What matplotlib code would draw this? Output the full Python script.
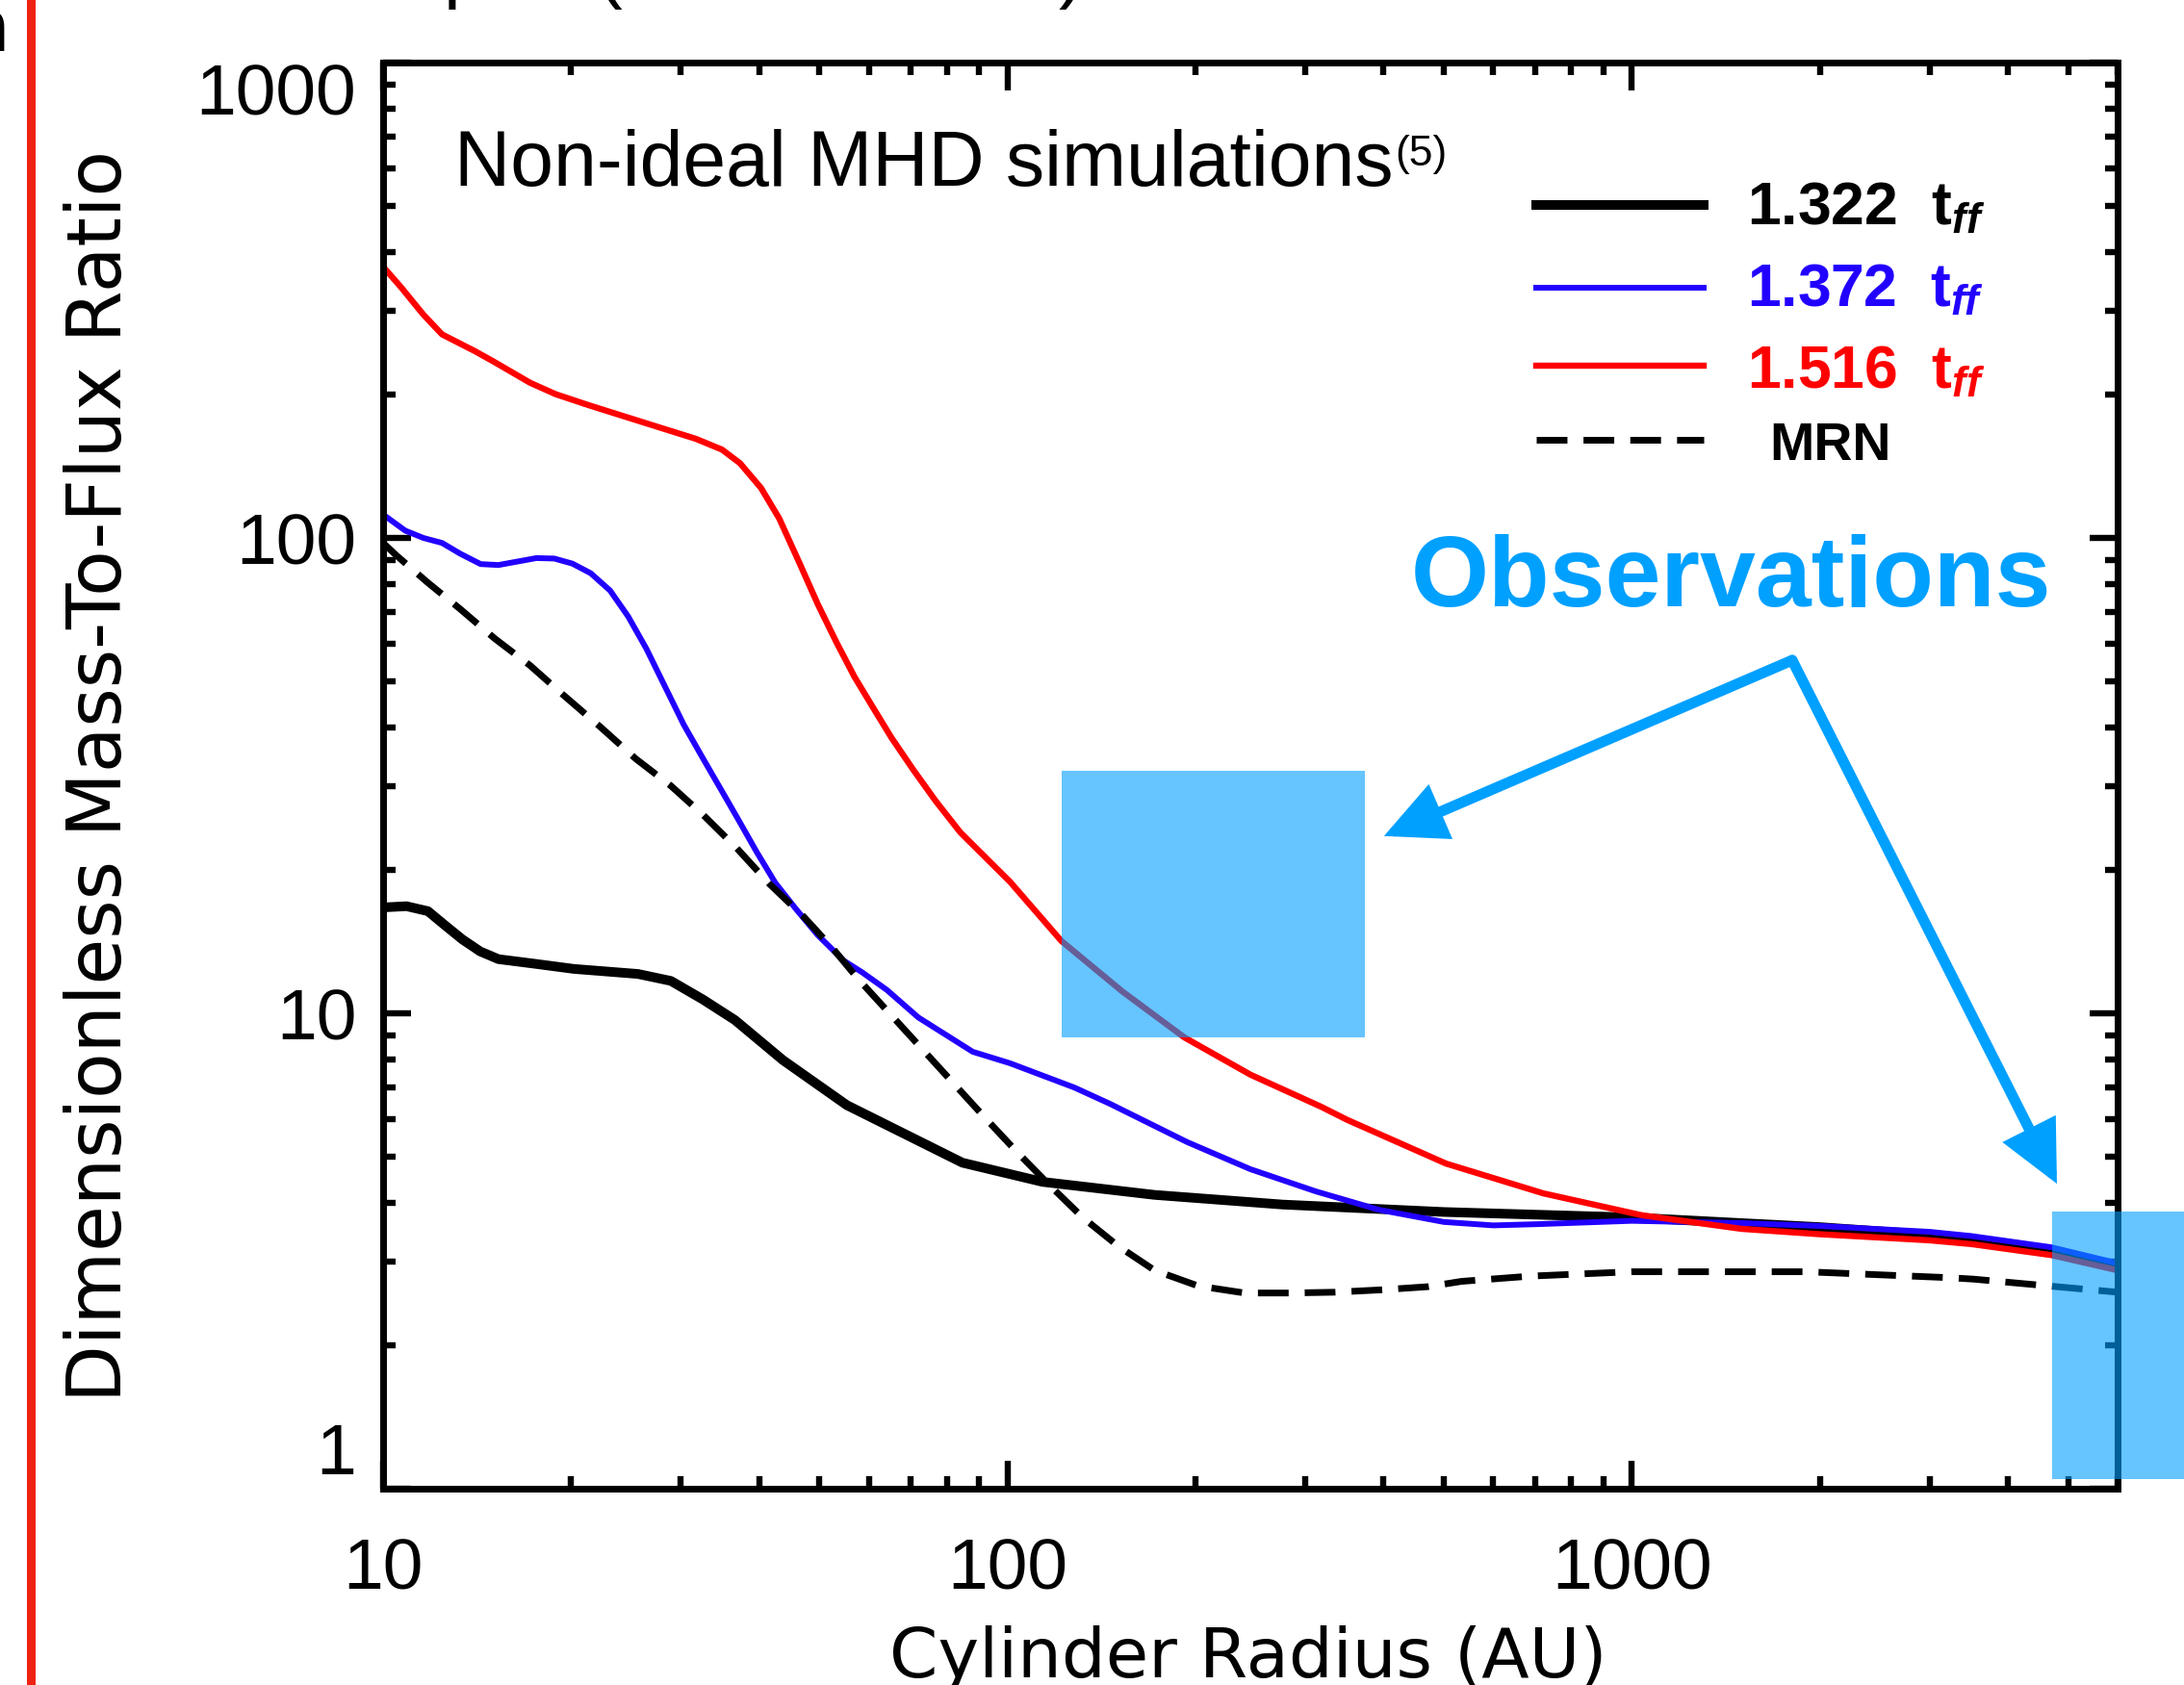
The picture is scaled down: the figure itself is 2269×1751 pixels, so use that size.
import matplotlib
matplotlib.use("Agg")
import matplotlib.pyplot as plt
from matplotlib.lines import Line2D
from matplotlib.patches import Rectangle
from matplotlib.ticker import FixedLocator, NullFormatter

plt.rcParams["font.family"] = ["DejaVu Sans"]
plt.rcParams["mathtext.fontset"] = "custom"
plt.rcParams["mathtext.it"] = "Liberation Sans:italic:bold"
plt.rcParams["mathtext.rm"] = "Liberation Sans:bold"

## DATA ##
# --------------------------------------------------------------------------- #
# 1.322 t_ff
r_1322 = [10, 10.9, 11.8, 12.5, 13.4, 14.3, 15.3, 17.6, 20.2, 25.6, 28.9, 32.5,
          36.6, 43.7, 55.3, 84.7, 113.8, 172, 276, 500, 1000, 2000, 3000, 3500,
          4700, 6000]
mu_1322 = [16.7, 16.8, 16.4, 15.4, 14.3, 13.5, 13.0, 12.7, 12.4, 12.1, 11.7, 10.7,
           9.68, 7.97, 6.41, 4.85, 4.42, 4.15, 3.96, 3.82, 3.72, 3.55, 3.42, 3.33,
           3.16, 2.93]

# 1.372 t_ff
r_1372 = [10, 10.85, 11.6, 12.43, 13.3, 14.33, 15.3, 17.6, 18.8, 20.1, 21.5, 23.1,
          24.7, 26.4, 28.3, 30.3, 32.4, 34.7, 37.1, 39.7, 42.5, 45.8, 49.7, 54.7,
          58.5, 64.1, 72, 88, 101, 128, 146, 194, 245, 312, 394, 500, 600, 700,
          1000, 1500, 2000, 3000, 3500, 4700, 6000]
mu_1372 = [112, 103.6, 100, 97.6, 92.6, 88.1, 87.7, 90.7, 90.5, 88.3, 84.3, 77.5,
           68.3, 58.5, 48.6, 40.5, 34.7, 29.7, 25.5, 21.8, 18.8, 16.6, 14.6, 12.9,
           12.2, 11.2, 9.8, 8.3, 7.85, 6.98, 6.45, 5.36, 4.70, 4.22, 3.86, 3.64,
           3.58, 3.6, 3.66, 3.62, 3.57, 3.47, 3.40, 3.22, 2.98]

# 1.516 t_ff
r_1516 = [10, 10.7, 11.6, 12.43, 14.04, 15.03, 17.2, 18.9, 21.4, 25.9, 31.7, 34.9,
          37.3, 40.3, 43.1, 46.4, 49.7, 53.2, 56.9, 60.9, 65.2, 70.7, 76.7, 84.1,
          101, 122, 153, 192, 245, 318, 350, 504, 722, 1038, 1500, 2000, 3000,
          3500, 4700, 6000]
mu_1516 = [372, 336, 295, 268, 247, 235, 212, 200.6, 190, 175.6, 161.6, 153.4,
           143.6, 127.4, 109.9, 88.8, 72.5, 60.4, 51.0, 44.0, 38.0, 32.5, 28.0, 24.0,
           18.9, 14.2, 11.1, 8.9, 7.43, 6.36, 5.97, 4.83, 4.18, 3.76, 3.52, 3.43,
           3.33, 3.27, 3.10, 2.88]

# MRN
r_mrn = [10, 10.49, 11.77, 13.3, 15.1, 17.2, 19.45, 22.3, 25.4, 28.9, 32.6, 36.8,
         41.6, 47.1, 52.5, 57.7, 92.6, 104, 116.8, 132, 150.4, 172, 202, 240, 283,
         334, 397, 471, 534, 688, 1000, 1900, 3200, 3522, 6000]
mu_mrn = [97.6, 92.0, 80.7, 70.8, 61.4, 53.9, 46.7, 40.0, 34.3, 30.1, 26.1, 22.3,
          18.7, 16.0, 13.7, 11.8, 5.98, 5.08, 4.35, 3.72, 3.24, 2.88, 2.67, 2.58,
          2.58, 2.59, 2.62, 2.66, 2.73, 2.8, 2.86, 2.86, 2.78, 2.76, 2.59]

series_labels = ["1.322", "1.372", "1.516"]

# observation boxes: (r_min, r_max), (mu_min, mu_max)
obs_r = [(122, 374), (4710, 8000)]
obs_mu = [(8.9, 32.4), (1.05, 3.83)]

# arrow anchors (data units)
arrow_start = (1807, 55.3)
arrow_ends = [(401, 23.6), (4797, 4.38)]

x_ticks = [10, 100, 1000]
y_ticks = [1, 10, 100, 1000]
# --------------------------------------------------------------------------- #

W, H = 2269, 1751
OBS_COLOR = "#00A0FF"
BLUE = "#2200FF"


def fx(px):
    return px / W


def fy(py):
    return 1 - py / H


fig = plt.figure(figsize=(W / 100, H / 100), dpi=100)
ax = fig.add_axes([fx(398), fy(1547), (2200 - 398) / W, (1547 - 65) / H])
ax.set_xscale("log")
ax.set_yscale("log")

ax.plot(r_1322, mu_1322, color="black", lw=7.2, solid_joinstyle="round", zorder=2)
ax.plot(r_1372, mu_1372, color=BLUE, lw=4.3, zorder=2.1)
ax.plot(r_1516, mu_1516, color="red", lw=4.6, zorder=2.2)
ax.plot(r_mrn, mu_mrn, color="black", lw=5, dashes=(4.6, 2.4),
        dash_capstyle="butt", zorder=2.3)

for (r0, r1), (m0, m1) in zip(obs_r, obs_mu):
    ax.fill([r0, r1, r1, r0], [m0, m0, m1, m1], color="#009EFF", alpha=0.6,
            lw=0, zorder=4, clip_on=False)

for end in arrow_ends:
    ax.annotate("", xy=end, xytext=arrow_start,
                arrowprops=dict(arrowstyle="-|>,head_length=33,head_width=16",
                                mutation_scale=1, lw=8, color=OBS_COLOR,
                                shrinkA=0, shrinkB=0, joinstyle="miter"),
                zorder=5)

ax.set_xlim(10, 6000)
ax.set_ylim(1, 1000)

tick_font = dict(family="Liberation Sans", size=54)
ax.xaxis.set_major_locator(FixedLocator(x_ticks))
ax.yaxis.set_major_locator(FixedLocator(y_ticks))
ax.set_xticklabels([str(v) for v in x_ticks], fontdict=tick_font)
ax.set_yticklabels([str(v) for v in y_ticks], fontdict=tick_font)
ax.xaxis.set_minor_formatter(NullFormatter())
ax.yaxis.set_minor_formatter(NullFormatter())
ax.tick_params(which="both", direction="in", top=True, right=True, width=4.6,
               colors="black")
ax.tick_params(which="major", length=21)
ax.tick_params(which="minor", length=9.5)
ax.tick_params(axis="y", which="major", pad=20)
ax.tick_params(axis="x", which="major", pad=36)
for sp in ax.spines.values():
    sp.set_linewidth(5)

# IDL style: end labels kept inside the axis range
ytk = ax.yaxis.get_major_ticks()
ytk[0].label1.set_va("bottom")
ytk[-1].label1.set_va("top")

# axis titles
fig.text(fx(126), fy(806), "Dimensionless Mass-To-Flux Ratio", rotation=90,
         rotation_mode="anchor", ha="center", va="baseline", fontsize=56)
fig.text(fx(1297), fy(1743), "Cylinder Radius (AU)", ha="center",
         va="baseline", fontsize=52)

# annotations
fig.text(fx(472), fy(193), "Non-ideal MHD simulations", ha="left",
         va="baseline", fontsize=58, family="Liberation Sans")
fig.text(fx(1449), fy(140), "(5)", ha="left", va="top", fontsize=32,
         family="Liberation Sans")
fig.text(fx(1466), fy(630), "Observations", ha="left", va="baseline",
         fontsize=75, family="Liberation Sans", weight="bold", color=OBS_COLOR)

# legend drawn by hand, IDL style
legend_rows = [213, 299, 380, 457]
legend_base = [233, 318, 403, 478]
legend_styles = [
    dict(color="black", lw=7.2),
    dict(color=BLUE, lw=4.3),
    dict(color="red", lw=4.6),
    dict(color="black", lw=5, dashes=(4.6, 2.4), dash_capstyle="butt"),
]
legend_text = [lab + "  t$_{ff}$" for lab in series_labels] + ["MRN"]
legend_colors = ["black", BLUE, "red", "black"]
for i, (row, base) in enumerate(zip(legend_rows, legend_base)):
    fig.add_artist(Line2D([fx(1596), fx(1770)], [fy(row), fy(row)],
                          **legend_styles[i]))
    if i < 3:
        fig.text(fx(1815), fy(base), legend_text[i], ha="left", va="baseline",
                 fontsize=45, family="Liberation Sans", weight="bold",
                 color=legend_colors[i])
    else:
        fig.text(fx(1838), fy(base), legend_text[i], ha="left", va="baseline",
                 fontsize=40, family="Liberation Sans", weight="bold",
                 color=legend_colors[i])

# page furniture cut off by the crop
fig.add_artist(Rectangle((fx(28), 0), 9 / W, 1, transform=fig.transFigure,
                         color="#EE2211", lw=0))
fig.text(fx(10), fy(53), "n", ha="right", va="baseline", fontsize=53)
fig.text(fx(461), fy(-7), "p", ha="left", va="baseline", fontsize=58,
         family="Liberation Sans")
fig.text(fx(620), fy(-7), "(", ha="left", va="baseline", fontsize=58,
         family="Liberation Sans")
fig.text(fx(1126), fy(-7), ")", ha="right", va="baseline", fontsize=58,
         family="Liberation Sans")

fig.savefig("out.png", dpi=100, facecolor="white")
